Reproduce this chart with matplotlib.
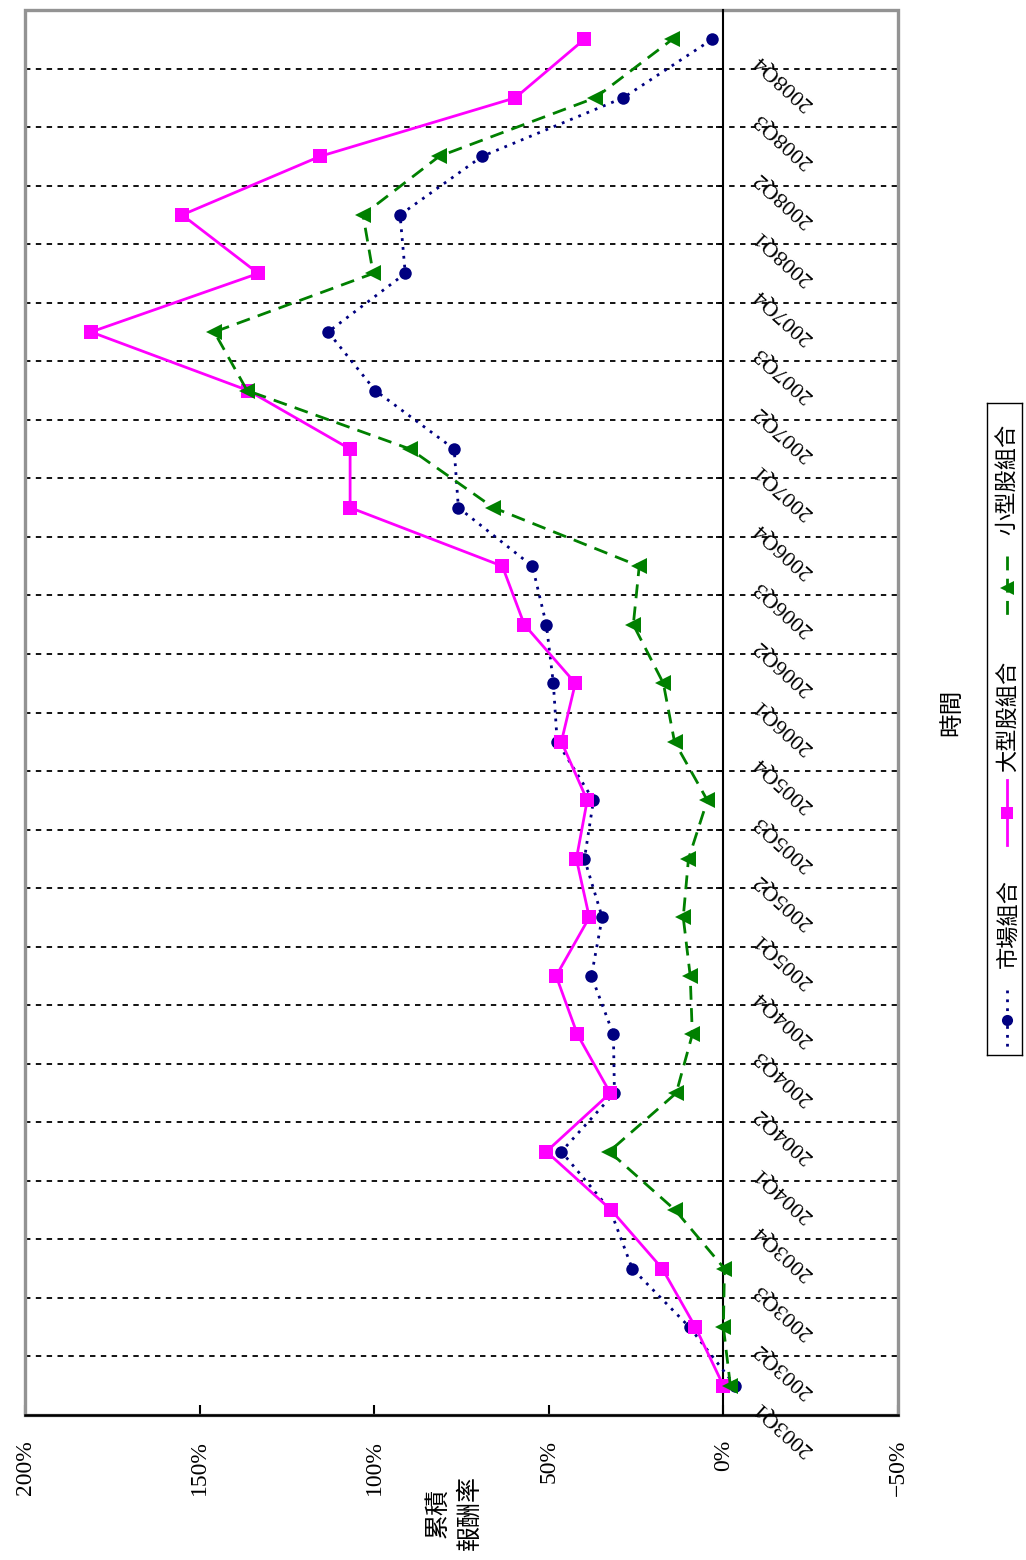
import matplotlib
matplotlib.use("Agg")
import matplotlib.pyplot as plt
from matplotlib.patches import Rectangle

# Quarterly periods
periods = ["2003Q1", "2003Q2", "2003Q3", "2003Q4",
           "2004Q1", "2004Q2", "2004Q3", "2004Q4",
           "2005Q1", "2005Q2", "2005Q3", "2005Q4",
           "2006Q1", "2006Q2", "2006Q3", "2006Q4",
           "2007Q1", "2007Q2", "2007Q3", "2007Q4",
           "2008Q1", "2008Q2", "2008Q3", "2008Q4"]

# Cumulative returns (%)
market = [-3.4, 9.7, 26.1, 32.4, 46.4, 31.2, 31.5, 37.8, 34.7, 39.8, 37.2, 47.6,
          48.7, 50.7, 54.7, 75.9, 77.1, 99.7, 113.2, 91.1, 92.6, 69.1, 28.7, 3.2]
large_cap = [0.0, 8.0, 17.5, 32.1, 50.7, 32.4, 41.8, 47.9, 38.4, 42.1, 39.0, 46.4,
             42.4, 57.0, 63.3, 106.9, 106.9, 136.1, 181.1, 133.2, 155.0, 115.5, 59.6, 39.8]
small_cap = [-2.0, 0.0, -0.3, 13.8, 32.7, 13.5, 8.9, 9.5, 11.5, 10.0, 4.6, 14.0,
             17.2, 25.8, 24.1, 65.9, 89.7, 136.4, 145.8, 100.3, 103.2, 81.4, 36.7, 14.6]

series_names = ["市場組合", "大型股組合", "小型股組合"]
value_ticks = [200, 150, 100, 50, 0, -50]
value_tick_labels = ["200%", "150%", "100%", "50%", "0%", "\u221250%"]

LATIN = ["Liberation Serif", "Noto Sans CJK TC"]
CJK = ["Noto Sans CJK TC", "DejaVu Sans"]

W, H = 1026, 1560
fig = plt.figure(figsize=(W / 100, H / 100), dpi=100)

ax = fig.add_axes([25 / W, 1 - 1415 / H, (898 - 25) / W, (1415 - 10) / H])
pos = list(range(len(periods)))

ax.set_xlim(200, -50)
ax.set_ylim(-0.5, len(periods) - 0.5)

styles = [
    dict(color="#000080", linestyle=(0, (1, 2.2)), lw=2.0, marker="o", ms=9),
    dict(color="#FF00FF", linestyle="-", lw=2.0, marker="s", ms=10),
    dict(color="#008000", linestyle=(0, (5, 3)), lw=2.0, marker="<", ms=11),
]
for vals, st in zip([market, large_cap, small_cap], styles):
    ax.plot(vals, pos, color=st["color"], linestyle=st["linestyle"], lw=st["lw"],
            marker=st["marker"], markersize=st["ms"], markeredgewidth=0,
            zorder=3, clip_on=False)

# category axis sits on the 0% line
for s in ["top", "right"]:
    ax.spines[s].set_visible(False)
ax.spines["left"].set_position(("data", 0))
ax.spines["left"].set_color("black")
ax.spines["left"].set_linewidth(1.5)
ax.spines["bottom"].set_color("black")
ax.spines["bottom"].set_linewidth(1.8)
ax.add_patch(Rectangle((0, 0), 1, 1, transform=ax.transAxes, fill=False,
                       edgecolor="#939393", lw=2.4, zorder=1.5, clip_on=False))

boundaries = [p - 0.5 for p in pos] + [len(periods) - 0.5]
ax.set_yticks(boundaries)
ax.set_yticklabels([])
ax.tick_params(axis="y", direction="out", length=5, width=1.3, color="black")
ax.yaxis.grid(True, color="black", linestyle=(0, (3, 3)), lw=1.3)
ax.set_axisbelow(True)

ax.set_xticks(value_ticks)
ax.set_xticklabels(value_tick_labels, rotation=90, family=LATIN, fontsize=17,
                   va="top", ha="center")
ax.tick_params(axis="x", direction="in", length=7, width=1.5, pad=18)

for p, lab in zip(pos, periods):
    ax.annotate(lab, xy=(0, p), xycoords="data", xytext=(24, -13),
                textcoords="offset points", rotation=138, rotation_mode="anchor",
                ha="right", va="center", fontsize=16, family=LATIN)

# axis titles
fig.text(454 / W, 1 - 1513 / H, "累積\n報酬率", rotation=90, ha="center", va="center",
         multialignment="center", fontsize=18, family=CJK, linespacing=1.3)
fig.text(952 / W, 1 - 712 / H, "時間", rotation=90, ha="center", va="center",
         fontsize=17, family=CJK)

# legend
lax = fig.add_axes([987 / W, 1 - 1055 / H, 35 / W, (1055 - 403) / H])
lax.set_xlim(987, 1022)
lax.set_ylim(1055, 403)
lax.set_xticks([])
lax.set_yticks([])
for s in lax.spines.values():
    s.set_color("black")
    s.set_linewidth(1.0)
handle_spans = [(990, 1050), (780, 845), (556, 620)]
text_centers = [924, 716, 479]
for name, st, (a, b), tc in zip(series_names, styles, handle_spans, text_centers):
    lax.plot([1007, 1007], [a, b], color=st["color"], linestyle=st["linestyle"], lw=st["lw"])
    lax.plot([1007], [(a + b) / 2], color=st["color"], marker=st["marker"],
             markersize=st["ms"] - 1, markeredgewidth=0, linestyle="none")
    lax.text(1008, tc, name, rotation=90, ha="center", va="center", fontsize=16, family=CJK)

fig.savefig("out.png", dpi=100)
